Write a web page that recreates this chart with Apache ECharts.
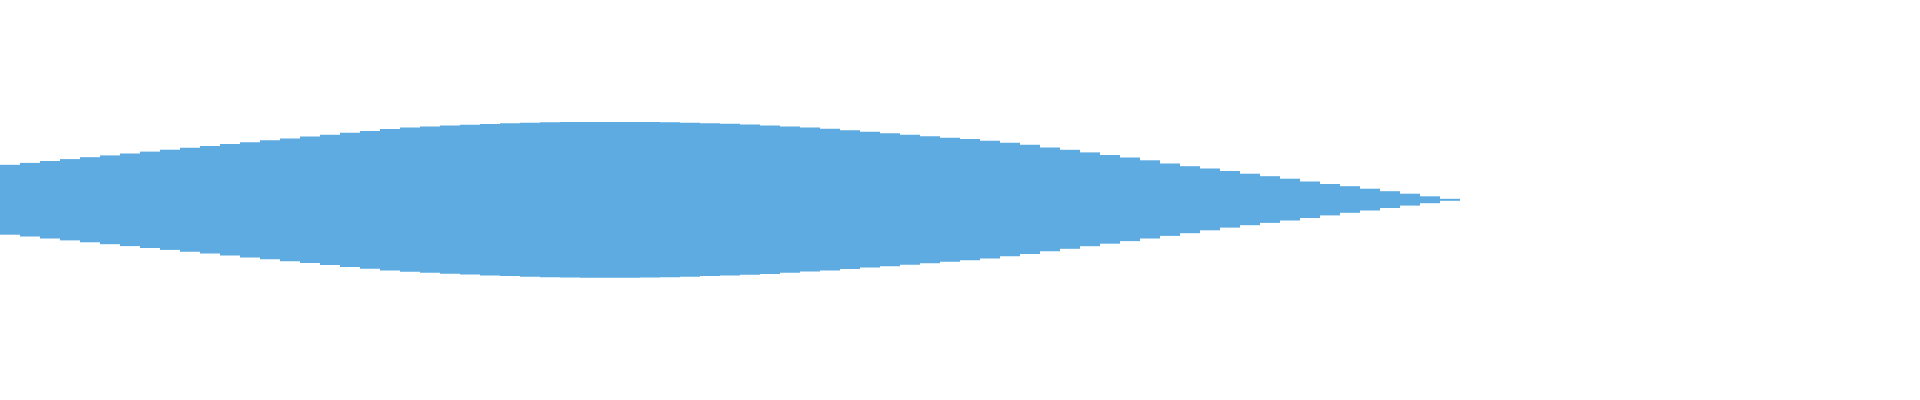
<!DOCTYPE html>
<html>
<head>
<meta charset="utf-8">
<script src="https://cdn.jsdelivr.net/npm/echarts@6/dist/echarts.min.js"></script>
<style>
html,body{margin:0;padding:0;background:#fff;}
#chart{width:1920px;height:400px;}
</style>
</head>
<body>
<div id="chart"></div>
<script>
// Upper half of the mirrored bars
const upperValues = [
  35.2, 37.1, 39.0, 40.9, 42.8, 44.6, 46.5, 48.4, 50.3, 52.2,
  54.0, 55.9, 57.8, 59.7, 61.6, 63.4, 65.3, 67.2, 69.1, 71.0,
  72.5, 73.6, 74.5, 75.3, 76.0, 76.7, 77.3, 77.7, 78.0, 78.0,
  78.0, 78.0, 78.0, 77.8, 77.3, 76.8, 76.2, 75.5, 74.5, 73.5,
  72.5, 71.2, 69.8, 68.3, 66.8, 65.3, 63.8, 62.2, 61.0, 59.3,
  57.3, 55.2, 52.6, 50.2, 47.6, 45.0, 42.5, 39.7, 36.5, 33.8,
  31.5, 29.0, 26.3, 23.8, 21.3, 18.5, 16.0, 13.8, 11.3, 8.8,
  6.3, 3.7, 1.2
];
// Lower half of the mirrored bars
const lowerValues = [
  -34.7, -36.5, -38.5, -40.4, -42.3, -44.2, -46.1, -48.0, -49.9, -51.8,
  -53.6, -55.5, -57.4, -59.3, -61.2, -63.1, -65.0, -66.9, -68.8, -70.6,
  -71.8, -72.8, -73.7, -74.6, -75.4, -76.1, -76.7, -77.2, -77.5, -77.7,
  -77.7, -77.7, -77.6, -77.3, -76.7, -76.0, -75.4, -74.8, -73.9, -72.8,
  -71.6, -70.4, -69.0, -67.6, -66.3, -64.8, -63.2, -61.7, -60.2, -58.4,
  -56.3, -53.9, -51.3, -48.8, -46.2, -43.7, -41.1, -38.5, -35.9, -33.2,
  -30.3, -27.6, -25.2, -22.9, -20.5, -18.0, -15.4, -12.8, -10.5, -8.0,
  -5.6, -3.2, -0.8
];
const categories = upperValues.map((_, i) => String(i + 1));

const chart = echarts.init(document.getElementById('chart'), null, {renderer: 'canvas'});
chart.setOption({
  animation: false,
  backgroundColor: '#ffffff',
  grid: {left: 0, top: 0, bottom: 0, width: 1460, containLabel: false},
  xAxis: {
    type: 'category',
    data: categories,
    show: false,
    boundaryGap: true
  },
  yAxis: {
    type: 'value',
    min: -200,
    max: 200,
    show: false
  },
  series: [
    {
      type: 'bar',
      data: upperValues,
      barCategoryGap: '0%',
      barGap: '-100%',
      itemStyle: {color: '#5dabe1'}
    },
    {
      type: 'bar',
      data: lowerValues,
      barCategoryGap: '0%',
      barGap: '-100%',
      itemStyle: {color: '#5dabe1'}
    }
  ]
});
</script>
</body>
</html>
